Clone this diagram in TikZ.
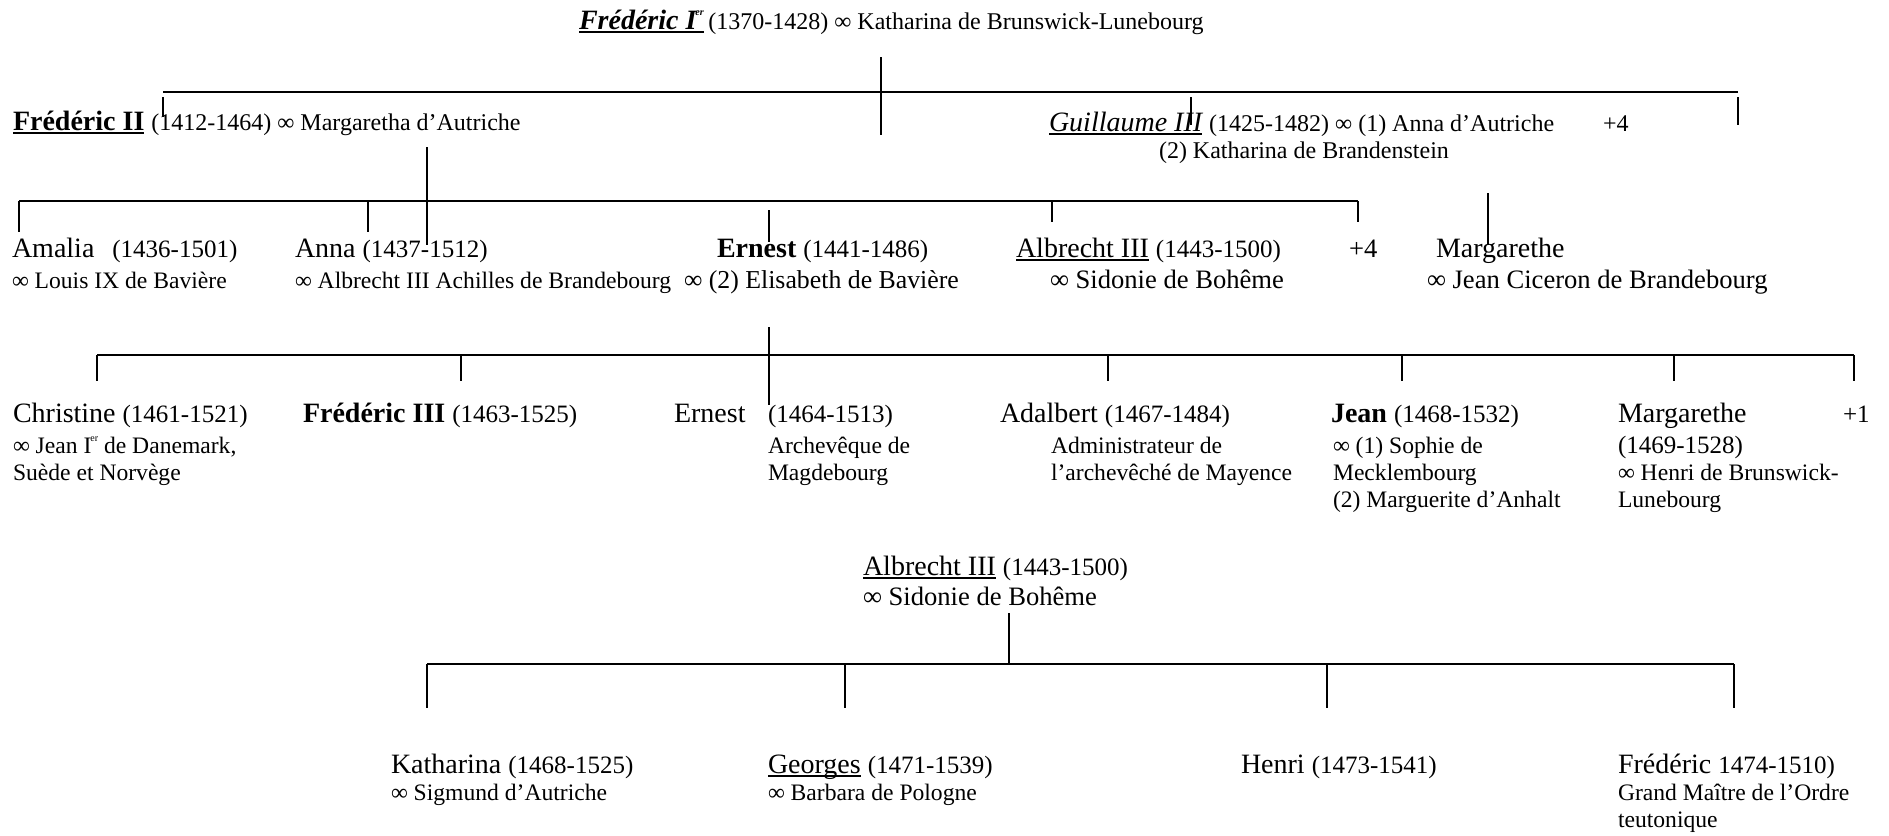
\documentclass[tikz,border=0pt]{standalone}
\usepackage{fontspec}
\setmainfont{Liberation Serif}

% type sizes used in the chart
\newcommand{\szname}{\fontsize{14}{16}\selectfont}
\newcommand{\szdate}{\fontsize{12.5}{14}\selectfont}
\newcommand{\szsp}{\fontsize{11.8}{14}\selectfont}
\newcommand{\szmid}{\fontsize{13.3}{15}\selectfont}
\newcommand{\szhead}{\fontsize{12}{14}\selectfont}

% underline drawn just below the baseline
\newcommand{\ulin}[1]{\setbox0=\hbox{#1}\rlap{\rule[-2pt]{\wd0}{0.9pt}}\box0\relax}
% small raised "er" of "Ier"
\newcommand{\ersup}{\kern-0.5pt\raisebox{0.5em}{\fontsize{5}{5}\selectfont er}}

\begin{document}
\begin{tikzpicture}[x=0.5pt,y=-0.5pt,
  ptxt/.style={anchor=base west,inner sep=0pt,outer sep=0pt},
  pname/.style={ptxt,font=\szname},
  pdate/.style={ptxt,font=\szdate},
  pspouse/.style={ptxt,font=\szsp},
  pmid/.style={ptxt,font=\szmid},
  phead/.style={ptxt,font=\szhead},
  bus/.style={line width=1.2pt},
  drop/.style={line width=0.9pt}]

\useasboundingbox (0,0) rectangle (1889,835);

% ---------- generation 1
\node[pname] (fred1) at (579,29) {{\bfseries\itshape\ulin{Frédéric I\ersup}}\,{\szhead(1370-1428) ∞ Katharina de Brunswick-Lunebourg}};

% ---------- generation 2
\node[pname] (fred2) at (13,130) {{\bfseries\ulin{Frédéric II}} {\szhead(1412-1464) ∞ Margaretha d’Autriche}};
\node[pname] (guil) at (1049,131) {{\itshape\ulin{Guillaume III}} {\szhead(1425-1482) ∞ (1) Anna d’Autriche}};
\node[phead] (guilplus) at (1603,131) {+4};
\node[phead] (guil-s) at (1159,158) {(2) Katharina de Brandenstein};

% ---------- generation 3
\node[pname] (amalia) at (12,257) {Amalia\hspace{9pt}{\szdate(1436-1501)}};
\node[pspouse] (amalia-s) at (12,288) {∞ Louis IX de Bavière};
\node[pname] (anna) at (295,257) {Anna {\szdate(1437-1512)}};
\node[pspouse] (anna-s) at (295,288) {∞ Albrecht III Achilles de Brandebourg};
\node[pname] (ernest) at (717,257) {{\bfseries Ernest} {\szdate(1441-1486)}};
\node[ptxt,font=\fontsize{12.9}{14}\selectfont] (ernest-s) at (684,288) {∞ (2) Elisabeth de Bavière};
\node[pname] (albrecht) at (1016,257) {\ulin{Albrecht III} {\szdate(1443-1500)}};
\node[pmid] (albrecht-s) at (1050,288) {∞ Sidonie de Bohême};
\node[pmid] (fredplus) at (1349,257) {+4};
\node[pname] (marg) at (1436,257) {Margarethe};
\node[pmid] (marg-s) at (1427,288) {∞ Jean Ciceron de Brandebourg};

% ---------- generation 4 (children of Ernest)
\node[pname] (christine) at (13,422) {Christine {\szdate(1461-1521)}};
\node[pspouse] (christine-s1) at (13,453) {∞ Jean I\ersup{} de Danemark,};
\node[pspouse] (christine-s2) at (13,480) {Suède et Norvège};
\node[pname] (fred3) at (303,422) {{\bfseries Frédéric III} {\szdate(1463-1525)}};
\node[pname] (ernest2) at (674,422) {Ernest};
\node[pdate] (ernest2-d) at (768,422) {(1464-1513)};
\node[pspouse] (ernest2-s1) at (768,453) {Archevêque de};
\node[pspouse] (ernest2-s2) at (768,480) {Magdebourg};
\node[pname] (adalbert) at (1000,422) {Adalbert {\szdate(1467-1484)}};
\node[pspouse] (adalbert-s1) at (1051,453) {Administrateur de};
\node[pspouse] (adalbert-s2) at (1051,480) {l’archevêché de Mayence};
\node[pname] (jean) at (1331,422) {{\bfseries Jean} {\szdate(1468-1532)}};
\node[pspouse] (jean-s1) at (1333,453) {∞ (1) Sophie de};
\node[pspouse] (jean-s2) at (1333,480) {Mecklembourg};
\node[pspouse] (jean-s3) at (1333,507) {(2) Marguerite d’Anhalt};
\node[pname] (marg2) at (1618,422) {Margarethe};
\node[pdate] (marg2-d) at (1618,453) {(1469-1528)};
\node[pspouse] (marg2-s1) at (1618,480) {∞ Henri de Brunswick-};
\node[pspouse] (marg2-s2) at (1618,507) {Lunebourg};
\node[pdate] (ernplus) at (1843,422) {+1};

% ---------- Albrecht III and his children
\node[pname] (albrecht2) at (863,575) {\ulin{Albrecht III} {\szdate(1443-1500)}};
\node[pmid] (albrecht2-s) at (863,605) {∞ Sidonie de Bohême};
\node[pname] (katharina) at (391,773) {Katharina {\szdate(1468-1525)}};
\node[pspouse] (katharina-s) at (391,800) {∞ Sigmund d’Autriche};
\node[pname] (georges) at (768,773) {\ulin{Georges} {\szdate(1471-1539)}};
\node[pspouse] (georges-s) at (768,800) {∞ Barbara de Pologne};
\node[pname] (henri) at (1241,773) {Henri {\szdate(1473-1541)}};
\node[pname] (fred4) at (1618,773) {Frédéric {\szdate 1474-1510)}};
\node[pspouse] (fred4-s1) at (1618,800) {Grand Maître de l’Ordre};
\node[pspouse] (fred4-s2) at (1618,827) {teutonique};

% ---------- family lines
% children of Frédéric I
\coordinate (busA-w) at (163,92);
\coordinate (busA-e) at (1738,92);
\coordinate (fred1-top) at (881,57);
\draw[bus] (busA-w) -- (busA-e);
\draw[drop] (fred1-top) -- ++(0,78);
\draw[drop] (busA-w) ++(0,5) -- ++(0,20);
\draw[drop] (busA-w) ++(1028,5) -- ++(0,28);
\draw[drop] (busA-e) ++(0,5) -- ++(0,28);

% children of Frédéric II
\coordinate (busB-w) at (19,201);
\coordinate (busB-e) at (1358,201);
\coordinate (fred2-top) at (427,147);
\draw[bus] (busB-w) -- (busB-e);
\draw[drop] (fred2-top) -- ++(0,98);
\draw[drop] (busB-w) -- ++(0,31);
\draw[drop] (busB-w) ++(349,0) -- ++(0,31);
\draw[drop] (busB-w) ++(750,9) -- ++(0,32);
\draw[drop] (busB-w) ++(1033,0) -- ++(0,21);
\draw[drop] (busB-e) -- ++(0,21);
% child of Guillaume III
\coordinate (guil-drop) at (1488,193);
\draw[drop] (guil-drop) -- ++(0,52);

% children of Ernest
\coordinate (busC-w) at (97,355);
\coordinate (busC-e) at (1854,355);
\coordinate (ernest-top) at (769,327);
\draw[bus] (busC-w) -- (busC-e);
\draw[drop] (ernest-top) -- ++(0,78);
\foreach \dx in {0,364,1011,1305,1577,1757}
  \draw[drop] (busC-w) ++(\dx,0) -- ++(0,26);

% children of Albrecht III
\coordinate (busD-w) at (427,664);
\coordinate (busD-e) at (1734,664);
\coordinate (albrecht2-top) at (1009,613);
\draw[bus] (busD-w) -- (busD-e);
\draw[drop] (albrecht2-top) -- (albrecht2-top |- busD-w);
\foreach \dx in {0,418,900,1307}
  \draw[drop] (busD-w) ++(\dx,0) -- ++(0,44);
\end{tikzpicture}
\end{document}
